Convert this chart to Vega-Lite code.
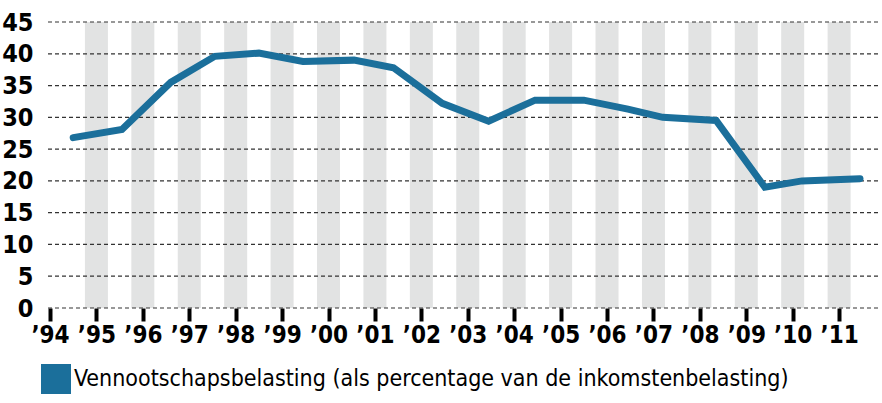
{
  "$schema": "https://vega.github.io/schema/vega-lite/v6.json",
  "autosize": "none",
  "width": 833,
  "height": 286,
  "padding": {"left": 45, "top": 22, "right": 4, "bottom": 95},
  "background": "white",
  "config": {
    "view": {"stroke": null},
    "font": "DejaVu Sans Condensed, Liberation Sans, sans-serif",
    "axisY": {"labelOverlap": false, "labelFlush": false}
  },
  "datasets": {
    "bands": [
      {"year": 1995}, {"year": 1996}, {"year": 1997}, {"year": 1998}, {"year": 1999},
      {"year": 2000}, {"year": 2001}, {"year": 2002}, {"year": 2003}, {"year": 2004},
      {"year": 2005}, {"year": 2006}, {"year": 2007}, {"year": 2008}, {"year": 2009},
      {"year": 2010}, {"year": 2011}
    ],
    "grid": [
      {"v": 0}, {"v": 5}, {"v": 10}, {"v": 15}, {"v": 20}, {"v": 25}, {"v": 30}, {"v": 35}, {"v": 40}, {"v": 45}
    ],
    "series": [
      {"year": 1994.5, "value": 26.8, "reeks": "Vennootschapsbelasting (als percentage van de inkomstenbelasting)"},
      {"year": 1995.55, "value": 28.1, "reeks": "Vennootschapsbelasting (als percentage van de inkomstenbelasting)"},
      {"year": 1996.6, "value": 35.5, "reeks": "Vennootschapsbelasting (als percentage van de inkomstenbelasting)"},
      {"year": 1997.55, "value": 39.6, "reeks": "Vennootschapsbelasting (als percentage van de inkomstenbelasting)"},
      {"year": 1998.5, "value": 40.1, "reeks": "Vennootschapsbelasting (als percentage van de inkomstenbelasting)"},
      {"year": 1999.45, "value": 38.8, "reeks": "Vennootschapsbelasting (als percentage van de inkomstenbelasting)"},
      {"year": 2000.55, "value": 39.0, "reeks": "Vennootschapsbelasting (als percentage van de inkomstenbelasting)"},
      {"year": 2001.4, "value": 37.8, "reeks": "Vennootschapsbelasting (als percentage van de inkomstenbelasting)"},
      {"year": 2002.45, "value": 32.2, "reeks": "Vennootschapsbelasting (als percentage van de inkomstenbelasting)"},
      {"year": 2003.45, "value": 29.4, "reeks": "Vennootschapsbelasting (als percentage van de inkomstenbelasting)"},
      {"year": 2004.45, "value": 32.7, "reeks": "Vennootschapsbelasting (als percentage van de inkomstenbelasting)"},
      {"year": 2005.5, "value": 32.7, "reeks": "Vennootschapsbelasting (als percentage van de inkomstenbelasting)"},
      {"year": 2006.45, "value": 31.3, "reeks": "Vennootschapsbelasting (als percentage van de inkomstenbelasting)"},
      {"year": 2007.2, "value": 30.0, "reeks": "Vennootschapsbelasting (als percentage van de inkomstenbelasting)"},
      {"year": 2008.35, "value": 29.5, "reeks": "Vennootschapsbelasting (als percentage van de inkomstenbelasting)"},
      {"year": 2009.4, "value": 19.0, "reeks": "Vennootschapsbelasting (als percentage van de inkomstenbelasting)"},
      {"year": 2010.2, "value": 20.0, "reeks": "Vennootschapsbelasting (als percentage van de inkomstenbelasting)"},
      {"year": 2011.45, "value": 20.35, "reeks": "Vennootschapsbelasting (als percentage van de inkomstenbelasting)"}
    ]
  },
  "layer": [
    {
      "data": {"name": "bands"},
      "mark": {"type": "bar", "width": 23, "color": "#e2e3e3", "orient": "vertical"},
      "encoding": {
        "x": {
          "field": "year", "type": "quantitative",
          "scale": {"domain": [1994, 2011.73], "nice": false, "zero": false},
          "axis": {
            "values": [1994, 1995, 1996, 1997, 1998, 1999, 2000, 2001, 2002, 2003, 2004, 2005, 2006, 2007, 2008, 2009, 2010, 2011],
            "labelExpr": "'’' + slice(toString(datum.value), 2)",
            "title": null,
            "grid": false,
            "domain": false,
            "ticks": true,
            "tickSize": 13,
            "tickWidth": 4,
            "tickColor": "#000000",
            "labelFont": "DejaVu Sans Condensed, Liberation Sans, sans-serif",
            "labelFontWeight": "bold",
            "labelFontSize": 24,
            "labelColor": "#000000",
            "labelPadding": 2,
            "labelFlush": false,
            "labelOverlap": false
          }
        },
        "y": {
          "datum": 45, "type": "quantitative",
          "scale": {"domain": [0, 45], "nice": false},
          "axis": {
            "values": [0, 5, 10, 15, 20, 25, 30, 35, 40, 45],
            "title": null,
            "grid": false,
            "domain": false,
            "ticks": false,
            "labelFont": "DejaVu Sans Condensed, Liberation Sans, sans-serif",
            "labelFontWeight": "bold",
            "labelFontSize": 25,
            "labelColor": "#000000",
            "labelPadding": 12,
            "labelOverlap": false,
            "labelFlush": false
          }
        },
        "y2": {"datum": 0}
      }
    },
    {
      "data": {"name": "grid"},
      "mark": {"type": "rule", "color": "#333333", "strokeDash": [4, 3], "strokeWidth": 1.2},
      "encoding": {
        "y": {
          "field": "v", "type": "quantitative",
          "axis": {
            "values": [0, 5, 10, 15, 20, 25, 30, 35, 40, 45],
            "title": null,
            "grid": false,
            "domain": false,
            "ticks": false,
            "labelFont": "DejaVu Sans Condensed, Liberation Sans, sans-serif",
            "labelFontWeight": "bold",
            "labelFontSize": 25,
            "labelColor": "#000000",
            "labelPadding": 12,
            "labelOverlap": false,
            "labelFlush": false
          }
        }
      }
    },
    {
      "data": {"name": "series"},
      "mark": {"type": "line", "strokeWidth": 7, "strokeCap": "round", "strokeJoin": "miter"},
      "encoding": {
        "x": {"field": "year", "type": "quantitative"},
        "y": {
          "field": "value", "type": "quantitative",
          "axis": {
            "values": [0, 5, 10, 15, 20, 25, 30, 35, 40, 45],
            "title": null,
            "grid": false,
            "domain": false,
            "ticks": false,
            "labelFont": "DejaVu Sans Condensed, Liberation Sans, sans-serif",
            "labelFontWeight": "bold",
            "labelFontSize": 25,
            "labelColor": "#000000",
            "labelPadding": 12,
            "labelOverlap": false,
            "labelFlush": false
          }
        },
        "color": {
          "field": "reeks", "type": "nominal",
          "scale": {"range": ["#1b6f9b"]},
          "legend": {
            "orient": "none",
            "legendX": -4,
            "legendY": 342,
            "title": null,
            "padding": 0,
            "symbolType": "square",
            "symbolSize": 900,
            "symbolFillColor": "#1b6f9b",
            "symbolStrokeWidth": 0,
            "symbolStrokeColor": "#1b6f9b",
            "labelFont": "DejaVu Sans Condensed, Liberation Sans, sans-serif",
            "labelFontSize": 23,
            "labelColor": "#000000",
            "labelLimit": 1000,
            "labelOffset": 3
          }
        }
      }
    }
  ]
}
